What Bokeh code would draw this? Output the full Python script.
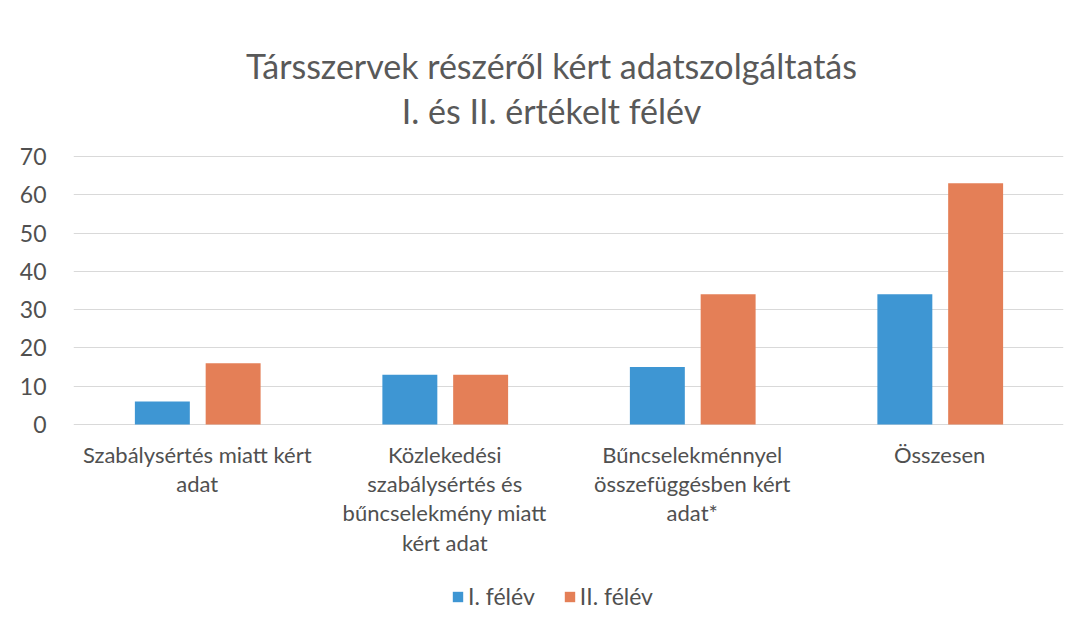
from bokeh.plotting import figure
from bokeh.models import ColumnDataSource, FactorRange, Range1d, Label, Legend, LegendItem, FixedTicker
from bokeh.core.properties import value
from bokeh.transform import dodge
from bokeh.embed import file_html
from bokeh.resources import INLINE

categories = [
    "Szabálysértés miatt kért\nadat",
    "Közlekedési\nszabálysértés és\nbűncselekmény miatt\nkért adat",
    "Bűncselekménnyel\nösszefüggésben kért\nadat*",
    "Összesen",
]
felev1 = [6, 13, 15, 34]
felev2 = [16, 13, 34, 63]
series_names = ["I. félév", "II. félév"]
title_lines = ["Társszervek részéről kért adatszolgáltatás", "I. és II. értékelt félév"]
y_ticks = [0, 10, 20, 30, 40, 50, 60, 70]

FONT = "Lato"
BLUE = "#3E96D3"
ORANGE = "#E47F57"
TEXT = "#505050"

# layout (pixels): value 70 at y=156, value 0 at y=424; the frame is extended
# above (titles) and below (category labels, legend) so nothing gets clipped.
TOP, ZERO, SEVENTY, BOTTOM = 10, 424, 156, 619
px_per_unit = (ZERO - SEVENTY) / 70.0
y_max = (ZERO - TOP) / px_per_unit
y_min = -(BOTTOM - ZERO) / px_per_unit

src = ColumnDataSource(dict(cat=categories, a=felev1, b=felev2))

p = figure(frame_width=990, frame_height=BOTTOM - TOP,
           x_range=FactorRange(*categories, range_padding=0),
           y_range=Range1d(y_min, y_max), x_axis_location=None,
           output_backend="svg", toolbar_location=None,
           min_border_left=73, min_border_right=6, min_border_top=TOP, min_border_bottom=0)
p.outline_line_color = None
p.background_fill_color = "white"
p.border_fill_color = "white"
p.xgrid.grid_line_color = None
p.xgrid.visible = False

r1 = p.vbar(x=dodge("cat", -0.141, range=p.x_range), top="a", width=0.222, source=src,
            fill_color=BLUE, line_color=None)
r2 = p.vbar(x=dodge("cat", 0.145, range=p.x_range), top="b", width=0.222, source=src,
            fill_color=ORANGE, line_color=None)

# category labels under the bars
p.text(x="cat", y=-16 / px_per_unit, text="cat", source=src,
       text_align="center", text_baseline="top", text_font=value(FONT),
       text_font_size=value("22px"), text_color=TEXT, text_line_height=1.09)

p.ygrid.grid_line_color = "#D9D9D9"
p.ygrid.grid_line_width = 1
p.yaxis.ticker = FixedTicker(ticks=y_ticks)
ax = p.yaxis[0]
ax.axis_line_color = None
ax.major_tick_line_color = None
ax.minor_tick_line_color = None
ax.major_label_text_font = FONT
ax.major_label_text_color = TEXT
ax.major_label_text_font_size = "23px"
ax.major_label_standoff = 21

legend = Legend(items=[LegendItem(label=series_names[0], renderers=[r1]),
                       LegendItem(label=series_names[1], renderers=[r2])],
                orientation="horizontal", location=(378, 9),
                label_text_font=FONT, label_text_font_size="23px", label_text_color=TEXT,
                glyph_width=13, glyph_height=13, spacing=28, label_standoff=4, padding=4,
                border_line_color=None, background_fill_alpha=0)
p.add_layout(legend, "center")

title_x = (551 - 73) / 247.5
for txt, base_px in ((title_lines[0], 65), (title_lines[1], 110)):
    p.add_layout(Label(x=title_x, y=(ZERO - base_px) / px_per_unit, text=txt,
                       text_align="center", text_baseline="alphabetic", text_font=FONT,
                       text_font_size="34px", text_color="#595959"))

open("out.html", "w").write(file_html(p, INLINE))
